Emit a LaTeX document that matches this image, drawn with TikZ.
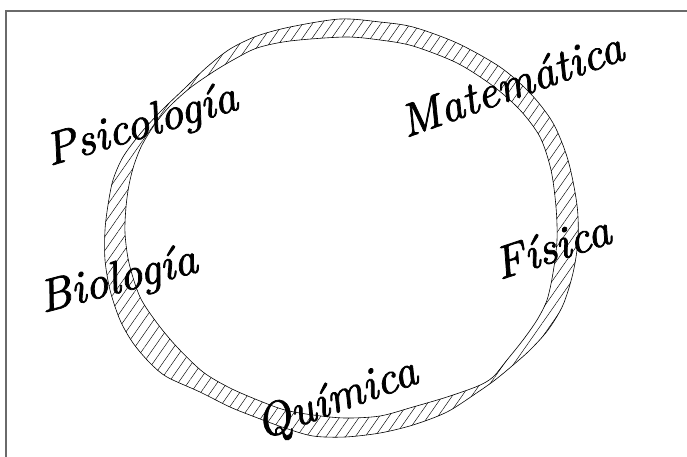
\documentclass[tikz,border=0pt]{standalone}
\usepackage{fontspec}
\newfontfamily\fieldfont{lmroman10-italic}[Extension=.otf, FakeBold=1.6]
\usetikzlibrary{patterns.meta}
\definecolor{framegray}{HTML}{6a6a6a}
\tikzset{
  frameline/.style = {draw=framegray, line width=1.2pt},
  ring/.style      = {draw=black, line width=0.6pt, even odd rule,
                      pattern={Lines[angle=55, distance=8pt, line width=0.45pt]}},
  field/.style     = {font=\fieldfont\fontsize{46}{50}\selectfont,
                      inner sep=0pt, anchor=base west},
}
\begin{document}
\begin{tikzpicture}[x=1pt, y=-1pt]
    \useasboundingbox (0,0) rectangle (687,456);
    % marco (solo se ven los lados superior e izquierdo)
    \draw[frameline] (6,11) rectangle (720,490);

    % anillo rayado: contorno exterior y contorno interior
    \path[ring]
      plot[smooth cycle] coordinates {
        (340,19) (380,22) (413,27) (457,43) (500,67) (530,93) (553,123)
        (568,160) (577,205) (578,240) (573,273) (563,305) (548,330)
        (530,350) (512,366) (495,380) (478,392) (447,412) (413,425)
        (380,433) (345,437) (313,436) (285,428) (255,417) (230,407)
        (200,392) (167,377) (150,363) (133,343) (120,320) (110,290)
        (105,260) (105,230) (108,205) (113,180) (123,157) (140,134)
        (160,112) (185,88) (207,67) (230,49) (257,36) (290,27)}
      plot[smooth cycle] coordinates {
        (345,37) (380,40) (413,46) (457,63) (493,86) (520,110) (540,137)
        (551,170) (556,207) (557,240) (553,273) (547,300) (537,320)
        (523,340) (507,360) (493,377) (478,386) (447,397) (413,407)
        (380,416) (345,418) (313,415) (285,410) (260,401) (230,388)
        (203,372) (177,347) (157,323) (140,297) (129,263) (125,233)
        (126,207) (129,185) (134,165) (142,145) (155,124) (170,106)
        (190,88) (213,72) (233,60) (257,48) (290,41)};

    % disciplinas
    \node[field, rotate=16.7] (psi) at (50,166)  {Psicología};
    \node[field, rotate=19.7] (mat) at (406,138) {Matemática};
    \node[field, rotate=18.3] (fis) at (500,280) {Física};
    \node[field, rotate=14.8] (bio) at (43,313)  {Biología};
    \node[field, rotate=20]   (qui) at (262,440) {Química};
\end{tikzpicture}
\end{document}
